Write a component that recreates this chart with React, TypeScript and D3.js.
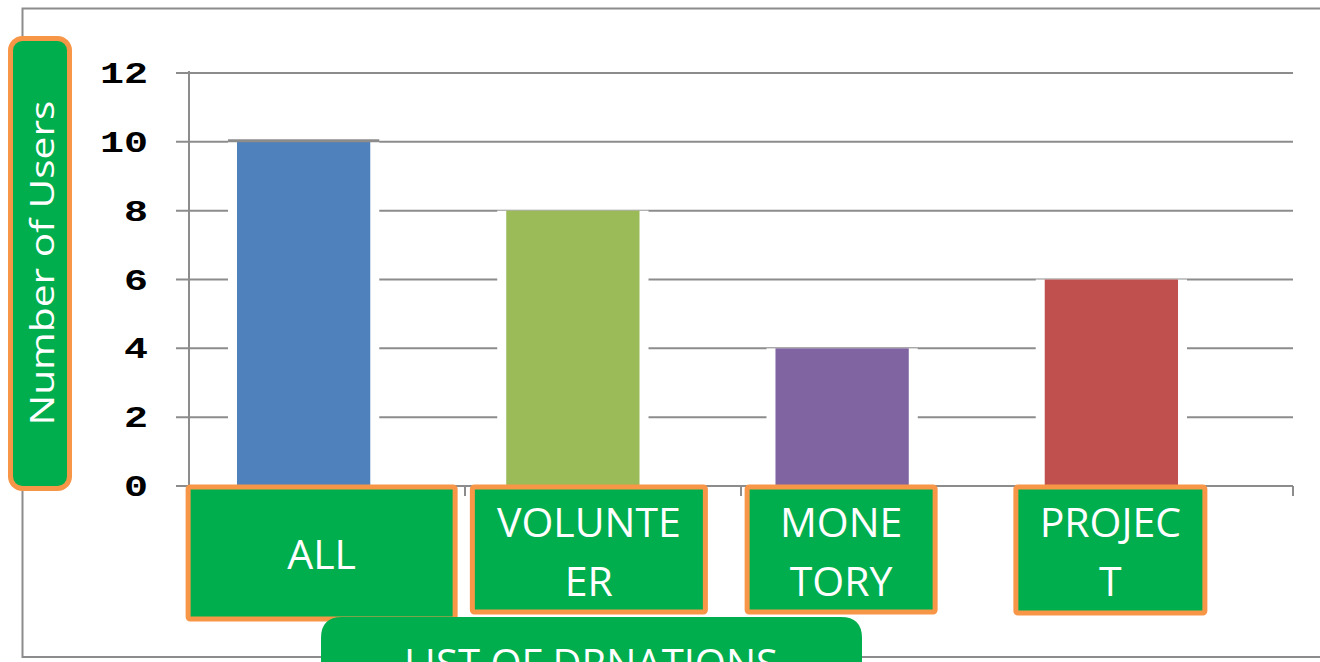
import React from "react";
import * as d3 from "d3";

const categories = ["ALL", "VOLUNTEER", "MONETORY", "PROJECT"];
const values = [10, 8, 4, 6];
const labelLines = [["ALL"], ["VOLUNTE", "ER"], ["MONE", "TORY"], ["PROJEC", "T"]];
const barColors = ["#4F81BD", "#9BBB59", "#8064A2", "#C0504D"];
const yTicks = [0, 2, 4, 6, 8, 10, 12];
const yTitle = "Number of Users";
const xTitle = "LIST OF DRNATIONS";

// layout of the overlay label boxes: offset of box centre from the bar centre, width, height
const boxLayout = [
  { dx: 18, w: 272, h: 137 },
  { dx: 16, w: 238, h: 130 },
  { dx: -1, w: 193, h: 130 },
  { dx: -1, w: 194, h: 131 },
];

const W = 1320;
const H = 662;
const GREEN = "#00AE4E";
const ORANGE = "#F79646";
const GRID = "#8C8C8C";

export default function App() {
  const y = d3.scaleLinear().domain([0, 12]).range([486, 73]);
  const xBars = d3.scaleBand<string>().domain(categories).range([169, 1246]);
  const xAxis = d3.scaleBand<string>().domain(categories).range([189, 1293]);
  const barW = xBars.bandwidth() * 0.495;
  const halo = 9;
  const boxTop = 486;

  return (
    <svg
      width={W}
      height={H}
      style={{ position: "absolute", left: 0, top: 0, background: "#fff" }}
    >
      {/* outer frame */}
      <path d={`M1320,8.5 H22.5 V657 H1320`} fill="none" stroke={GRID} strokeWidth={2} />

      {/* gridlines */}
      {yTicks.map((t) => (
        <line key={t} x1={176} x2={1293} y1={y(t)} y2={y(t)} stroke={GRID} strokeWidth={2} />
      ))}
      {/* y axis */}
      <line x1={189} x2={189} y1={y(12) - 2} y2={y(0)} stroke={GRID} strokeWidth={2} />
      {/* x-axis tick marks */}
      {categories.map((c) => (
        <line
          key={c}
          x1={(xAxis(c) as number) + xAxis.bandwidth()}
          x2={(xAxis(c) as number) + xAxis.bandwidth()}
          y1={y(0)}
          y2={y(0) + 10}
          stroke={GRID}
          strokeWidth={2}
        />
      ))}

      {/* y tick labels */}
      {yTicks.map((t) => (
        <text
          key={t}
          x={148}
          y={y(t) + 10}
          textAnchor="end"
          fontFamily="'Liberation Mono', 'DejaVu Sans Mono', monospace"
          fontWeight="bold"
          fontSize={30}
          fill="#000"
          textLength={String(t).length * 24}
          lengthAdjust="spacingAndGlyphs"
        >
          {t}
        </text>
      ))}

      {/* bars */}
      {categories.map((c, i) => {
        const cx = (xBars(c) as number) + xBars.bandwidth() / 2;
        const x0 = cx - barW / 2;
        return (
          <g key={c}>
            <rect x={x0 - halo} y={y(values[i])} width={barW + 2 * halo} height={y(0) - y(values[i]) - 1} fill="#fff" />
            <rect x={x0} y={y(values[i])} width={barW} height={y(0) - y(values[i])} fill={barColors[i]} />
            {i === 0 && (
              <line x1={x0 - halo} x2={x0 + barW + halo} y1={y(values[i]) - 1} y2={y(values[i]) - 1} stroke={GRID} strokeWidth={3} />
            )}
          </g>
        );
      })}

      {/* y title box */}
      <rect x={10.5} y={38.5} width={59} height={450} rx={12} fill={GREEN} stroke={ORANGE} strokeWidth={5} />
      <text
        transform={`translate(54,263) rotate(-90)`}
        textAnchor="middle"
        fontFamily="'Open Sans', sans-serif"
        fontSize={33}
        fill="#fff"
        textLength={325}
        lengthAdjust="spacingAndGlyphs"
      >
        {yTitle}
      </text>

      {/* category label boxes */}
      {categories.map((c, i) => {
        const cx = (xBars(c) as number) + xBars.bandwidth() / 2 + boxLayout[i].dx;
        const b = boxLayout[i];
        const lines = labelLines[i];
        return (
          <g key={c}>
            <rect
              x={cx - b.w / 2 + 2.5}
              y={boxTop + 1}
              width={b.w - 5}
              height={b.h - 5}
              rx={2}
              fill={GREEN}
              stroke={ORANGE}
              strokeWidth={5}
            />
            {lines.map((ln, j) => (
              <text
                key={j}
                x={cx}
                y={lines.length === 1 ? boxTop + 83 : boxTop + 51 + j * 59}
                textAnchor="middle"
                fontFamily="'Open Sans', sans-serif"
                fontSize={41}
                fill="#fff"
              >
                {ln}
              </text>
            ))}
          </g>
        );
      })}

      {/* x title box */}
      <path d={`M321,662 V638 Q321,617 342,617 H841 Q862,617 862,638 V662 Z`} fill={GREEN} />
      <text
        x={591}
        y={678}
        textAnchor="middle"
        fontFamily="'Open Sans', sans-serif"
        fontSize={40}
        fill="#fff"
      >
        {xTitle}
      </text>
    </svg>
  );
}
